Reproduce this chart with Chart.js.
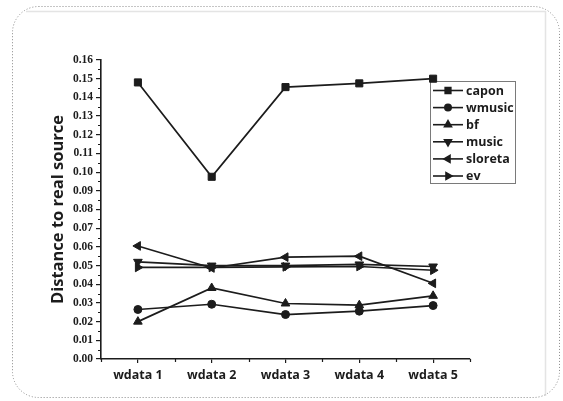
<!DOCTYPE html>
<html>
<head>
<meta charset="utf-8">
<script src="https://cdn.jsdelivr.net/npm/chart.js@4/dist/chart.umd.min.js"></script>
<style>
  html, body { margin: 0; padding: 0; background: #fff; }
  #wrap { width: 563px; height: 401px; position: relative; }
</style>
</head>
<body>
<div id="wrap"><canvas id="c" width="563" height="401"></canvas></div>
<script>
// Categories and series (distance to real source per data set)
const categories = ['wdata 1', 'wdata 2', 'wdata 3', 'wdata 4', 'wdata 5'];
const capon   = [0.1480, 0.0975, 0.1455, 0.1475, 0.1500];
const wmusic  = [0.0265, 0.0293, 0.0238, 0.0256, 0.0286];
const bf      = [0.0200, 0.0380, 0.0297, 0.0288, 0.0338];
const music   = [0.0520, 0.0500, 0.0500, 0.0506, 0.0495];
const sloreta = [0.0605, 0.0487, 0.0545, 0.0550, 0.0405];
const ev      = [0.0490, 0.0490, 0.0493, 0.0495, 0.0475];
const yTicks  = [0, 0.01, 0.02, 0.03, 0.04, 0.05, 0.06, 0.07, 0.08, 0.09, 0.10, 0.11, 0.12, 0.13, 0.14, 0.15, 0.16];

const INK = '#1c1c1c';

function series(label, data, pointStyle, rotation, radius) {
  return {
    label, data, pointStyle,
    rotation: rotation || 0,
    pointRadius: radius,
    pointHoverRadius: radius,
    borderColor: INK,
    backgroundColor: INK,
    pointBackgroundColor: INK,
    pointBorderColor: INK,
    pointBorderWidth: 1,
    borderWidth: 1.7,
    tension: 0,
    fill: false
  };
}

const datasets = [
  series('capon',   capon,   'rect',     0,   5),
  series('wmusic',  wmusic,  'circle',   0,   4),
  series('bf',      bf,      'triangle', 0,   5),
  series('music',   music,   'triangle', 180, 5),
  series('sloreta', sloreta, 'triangle', 270, 5),
  series('ev',      ev,      'triangle', 90,  5)
];

// Rounded dotted frame around the figure
const framePlugin = {
  id: 'frame',
  beforeDraw(chart) {
    const ctx = chart.ctx;
    ctx.save();
    // faint panel edges
    ctx.strokeStyle = '#e4e4e4';
    ctx.lineWidth = 1.5;
    ctx.beginPath();
    ctx.moveTo(26, 11.5); ctx.lineTo(545.5, 11.5); ctx.lineTo(545.5, 396);
    ctx.stroke();
    // dotted rounded outline
    const x0 = 12.5, y0 = 6.5, x1 = 559.5, y1 = 397.5, r = 26;
    ctx.strokeStyle = '#8a8a8a';
    ctx.lineWidth = 1;
    ctx.setLineDash([1, 2]);
    ctx.beginPath();
    ctx.moveTo(x0 + r, y0);
    ctx.lineTo(x1 - r, y0);
    ctx.arcTo(x1, y0, x1, y0 + r, r);
    ctx.lineTo(x1, y1 - r);
    ctx.arcTo(x1, y1, x1 - r, y1, r);
    ctx.lineTo(x0 + r, y1);
    ctx.arcTo(x0, y1, x0, y1 - r, r);
    ctx.lineTo(x0, y0 + r);
    ctx.arcTo(x0, y0, x0 + r, y0, r);
    ctx.closePath();
    ctx.stroke();
    ctx.restore();
  }
};

// Minor ticks on both axes
const minorTicksPlugin = {
  id: 'minorTicks',
  afterDraw(chart) {
    const ctx = chart.ctx;
    const xs = chart.scales.x, ys = chart.scales.y;
    ctx.save();
    ctx.strokeStyle = INK;
    ctx.lineWidth = 1.2;
    ctx.beginPath();
    for (let i = 0; i < yTicks.length - 1; i++) {
      const y = Math.round(ys.getPixelForValue((yTicks[i] + yTicks[i + 1]) / 2)) + 0.5;
      ctx.moveTo(xs.left - 3, y); ctx.lineTo(xs.left, y);
    }
    for (let i = 0; i <= categories.length; i++) {
      const x = Math.round(xs.getPixelForValue(i - 0.5)) + 0.5;
      ctx.moveTo(x, ys.bottom); ctx.lineTo(x, ys.bottom + 3);
    }
    ctx.stroke();
    ctx.restore();
  }
};

// Boxed legend with line + marker samples
const boxLegendPlugin = {
  id: 'boxLegend',
  beforeDatasetsDraw(chart) {
    const ctx = chart.ctx;
    const bx = 430.5, by = 81.5, bw = 85, bh = 102;
    ctx.save();
    ctx.fillStyle = '#fff';
    ctx.fillRect(bx, by, bw, bh);
    ctx.strokeStyle = '#7a7a7a';
    ctx.lineWidth = 1;
    ctx.strokeRect(bx, by, bw, bh);
    ctx.font = 'bold 12.5px "Open Sans"';
    ctx.textBaseline = 'middle';
    ctx.textAlign = 'left';
    chart.data.datasets.forEach((ds, i) => {
      const y = 90.5 + i * 17.1;
      ctx.strokeStyle = INK;
      ctx.lineWidth = 1.6;
      ctx.beginPath();
      ctx.moveTo(433, y); ctx.lineTo(463, y);
      ctx.stroke();
      const opts = {
        pointStyle: ds.pointStyle, rotation: ds.rotation,
        radius: ds.pointRadius * 0.8, borderWidth: 1
      };
      ctx.fillStyle = INK;
      ctx.strokeStyle = INK;
      Chart.helpers.drawPoint(ctx, opts, 448, y);
      ctx.fillStyle = INK;
      ctx.fillText(ds.label, 466, y + 0.5);
    });
    ctx.restore();
  }
};

new Chart(document.getElementById('c'), {
  type: 'line',
  data: { labels: categories, datasets },
  plugins: [framePlugin, minorTicksPlugin, boxLegendPlugin],
  options: {
    responsive: false,
    animation: false,
    layout: { padding: { top: 60, right: 93, bottom: 0, left: 0 } },
    plugins: { legend: { display: false }, tooltip: { enabled: false } },
    scales: {
      x: {
        type: 'category',
        offset: true,
        grid: { display: true, drawOnChartArea: false, drawTicks: true, tickLength: 4, color: INK, lineWidth: 1.2, offset: false },
        border: { display: true, color: INK, width: 1.6 },
        ticks: { color: INK, font: { family: 'Open Sans', weight: 'bold', size: 12.5 }, padding: 5, maxRotation: 0 },
        afterFit(s) { s.height = 42; }
      },
      y: {
        min: 0, max: 0.16,
        afterBuildTicks(s) { s.ticks = yTicks.map(v => ({ value: v })); },
        grid: { display: true, drawOnChartArea: false, drawTicks: true, tickLength: 5, color: INK, lineWidth: 1.2 },
        border: { display: true, color: INK, width: 1.6 },
        ticks: {
          color: INK, padding: 3,
          font: { family: 'Liberation Serif', weight: 'bold', size: 11.5 },
          callback: v => Number(v).toFixed(2)
        },
        title: {
          display: true, text: 'Distance to real source', color: INK,
          font: { family: 'Open Sans', weight: 'bold', size: 16.5 },
          padding: { top: 48, bottom: 0 }
        },
        afterFit(s) { s.width = 101; }
      }
    }
  }
});
</script>
</body>
</html>
